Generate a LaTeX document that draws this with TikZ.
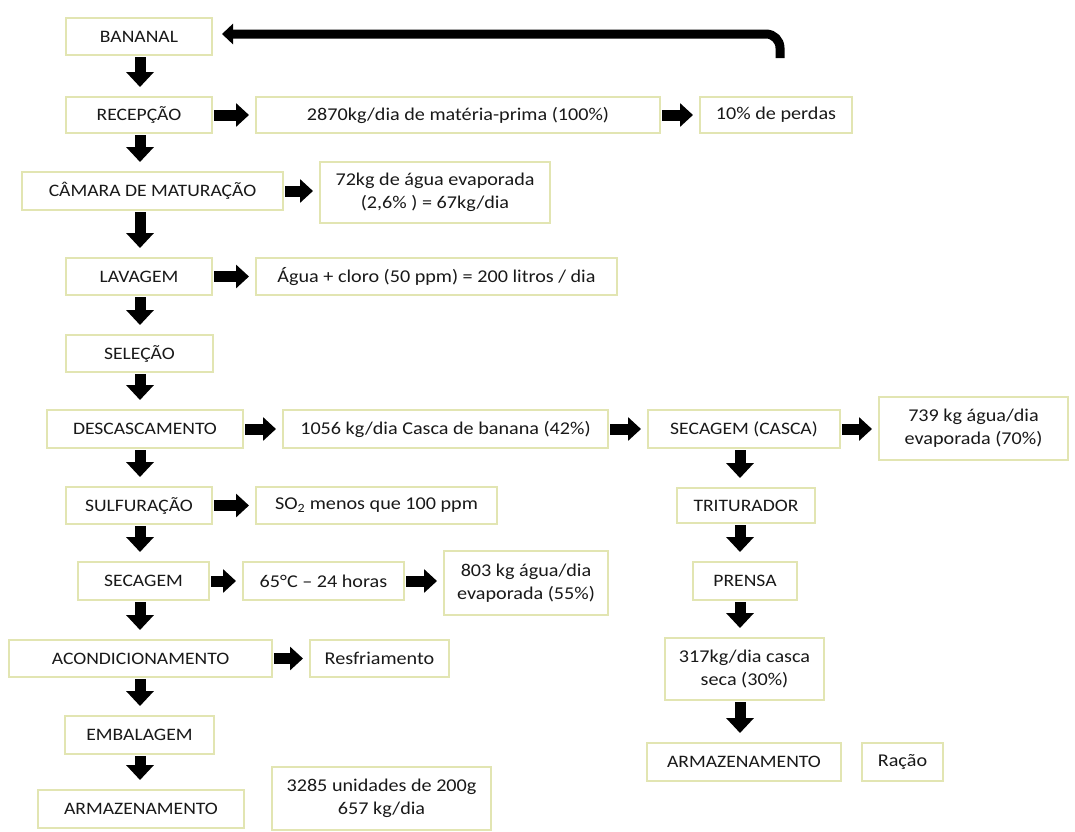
\documentclass[tikz,border=0pt]{standalone}
\usepackage{fontspec}
\setmainfont{Carlito}[FakeStretch=1.12]
\usetikzlibrary{arrows.meta}
\definecolor{bordc}{RGB}{226,229,178}
\definecolor{txtc}{RGB}{25,25,25}
\tikzset{
 box/.style={draw=bordc, fill=white, line width=2pt, inner sep=0pt, align=center, text=txtc, font=\fontsize{17.5}{23}\selectfont},
 lbox/.style={box, font=\fontsize{18}{23}\selectfont},
 darrow/.style={line width=11pt, -{Triangle[width=27pt,length=15pt]}, shorten <=1pt, shorten >=9pt},
 rarrow/.style={line width=11pt, -{Triangle[width=23pt,length=13pt]}, shorten <=1pt, shorten >=6pt},
 fbarrow/.style={line width=9pt, rounded corners=14pt, -{Triangle[width=20pt,length=11pt]}, shorten >=9pt},
}
\begin{document}
\begin{tikzpicture}[x=1pt,y=-1pt]
\useasboundingbox (0,0) rectangle (1075,831);
\fill[white] (0,0) rectangle (1075,831);
\coordinate (lc) at (140,0);
\coordinate (rc) at (740,0);
\coordinate (fbstart) at (780,58);
% left column
\node[box, minimum width=146pt, minimum height=37pt] (bananal) at (139,36.5) {BANANAL};
\node[box, minimum width=146pt, minimum height=36pt] (recepcao) at (139,115) {RECEPÇÃO};
\node[box, minimum width=261pt, minimum height=38pt] (camara) at (152.5,191) {CÂMARA DE MATURAÇÃO};
\node[box, minimum width=146pt, minimum height=37pt] (lavagem) at (139,276.5) {LAVAGEM};
\node[box, minimum width=147pt, minimum height=37pt] (selecao) at (139.5,353.5) {SELEÇÃO};
\node[box, minimum width=196pt, minimum height=38pt] (descasc) at (145,429) {DESCASCAMENTO};
\node[box, minimum width=146pt, minimum height=37pt] (sulf) at (139,505.5) {SULFURAÇÃO};
\node[box, minimum width=131pt, minimum height=38pt] (secagem) at (143.5,581) {SECAGEM};
\node[box, minimum width=263pt, minimum height=37pt] (acond) at (140.5,658.5) {ACONDICIONAMENTO};
\node[box, minimum width=149pt, minimum height=38pt] (embal) at (139.5,735) {EMBALAGEM};
\node[box, minimum width=206pt, minimum height=38pt] (arml) at (141,809) {ARMAZENAMENTO};
% side boxes
\node[lbox, minimum width=404pt, minimum height=36pt] (mp) at (458,115) {2870kg/dia de matéria-prima (100\%)};
\node[lbox, minimum width=152pt, minimum height=36pt] (perdas) at (776,115) {10\% de perdas};
\node[lbox, minimum width=230pt, minimum height=61pt] (evapa) at (435,192.5) {72kg de água evaporada\\(2,6\% ) = 67kg/dia};
\node[lbox, minimum width=361pt, minimum height=37pt] (agua) at (436.5,276.5) {Água + cloro (50 ppm) = 200 litros / dia};
\node[lbox, minimum width=325pt, minimum height=38pt] (casca) at (445.5,429) {1056 kg/dia Casca de banana (42\%)};
\node[box, minimum width=192pt, minimum height=38pt] (secasca) at (744,429) {SECAGEM (CASCA)};
\node[lbox, minimum width=189pt, minimum height=63pt] (evapc) at (973.5,428.5) {739 kg água/dia\\evaporada (70\%)};
\node[lbox, minimum width=241pt, minimum height=37pt] (so2) at (376.5,505.5) {SO\textsubscript{2} menos que 100 ppm};
\node[lbox, minimum width=161pt, minimum height=38pt] (temp) at (323.5,581) {65°C – 24 horas};
\node[lbox, minimum width=164pt, minimum height=64pt] (evapb) at (526,583) {803 kg água/dia\\evaporada (55\%)};
\node[lbox, minimum width=139pt, minimum height=37pt] (resfr) at (379.5,658.5) {Resfriamento};
\node[lbox, minimum width=219pt, minimum height=63pt] (unid) at (381.5,798.5) {3285 unidades de 200g\\657 kg/dia};
% right column
\node[box, minimum width=138pt, minimum height=35pt] (trit) at (746,505.5) {TRITURADOR};
\node[box, minimum width=104pt, minimum height=38pt] (prensa) at (745,581) {PRENSA};
\node[lbox, minimum width=159pt, minimum height=62pt] (seca) at (744.5,669) {317kg/dia casca\\seca (30\%)};
\node[box, minimum width=194pt, minimum height=38pt] (armr) at (744,762) {ARMAZENAMENTO};
\node[lbox, minimum width=81pt, minimum height=38pt] (racao) at (902.5,762) {Ração};
% down arrows left
\draw[darrow] (bananal.south -| lc) -- (recepcao.north -| lc);
\draw[darrow] (recepcao.south -| lc) -- (camara.north -| lc);
\draw[darrow] (camara.south -| lc) -- (lavagem.north -| lc);
\draw[darrow] (lavagem.south -| lc) -- (selecao.north -| lc);
\draw[darrow] (selecao.south -| lc) -- (descasc.north -| lc);
\draw[darrow] (descasc.south -| lc) -- (sulf.north -| lc);
\draw[darrow] (sulf.south -| lc) -- (secagem.north -| lc);
\draw[darrow] (secagem.south -| lc) -- (acond.north -| lc);
\draw[darrow] (acond.south -| lc) -- (embal.north -| lc);
\draw[darrow] (embal.south -| lc) -- (arml.north -| lc);
% down arrows right
\draw[darrow] (secasca.south -| rc) -- (trit.north -| rc);
\draw[darrow] (trit.south -| rc) -- (prensa.north -| rc);
\draw[darrow] (prensa.south -| rc) -- (seca.north -| rc);
\draw[darrow] (seca.south -| rc) -- (armr.north -| rc);
% right arrows
\draw[rarrow] (recepcao.east) -- (mp.west);
\draw[rarrow] (mp.east) -- (perdas.west);
\draw[rarrow] (camara.east) -- (camara.east -| evapa.west);
\draw[rarrow] (lavagem.east) -- (agua.west);
\draw[rarrow] (descasc.east) -- (casca.west);
\draw[rarrow] (casca.east) -- (secasca.west);
\draw[rarrow] (secasca.east) -- (secasca.east -| evapc.west);
\draw[rarrow] (sulf.east) -- (so2.west);
\draw[rarrow] (secagem.east) -- (temp.west);
\draw[rarrow] (temp.east) -- (temp.east -| evapb.west);
\draw[rarrow] (acond.east) -- (resfr.west);
% feedback
\draw[fbarrow] (fbstart) |- ([yshift=2.5pt]bananal.east);
\end{tikzpicture}
\end{document}
